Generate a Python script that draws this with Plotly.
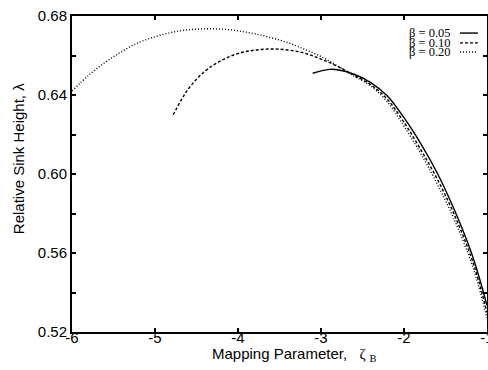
import plotly.graph_objects as go

# beta = 0.05 (solid)
x_b05 = [-3.10, -3.0, -2.9, -2.8, -2.6, -2.4, -2.2, -2.0, -1.8, -1.6, -1.4, -1.2, -1.1, -1.0]
y_b05 = [0.6510, 0.6522, 0.6530, 0.6528, 0.6505, 0.6463, 0.6395, 0.6285, 0.6155, 0.6005,
         0.5825, 0.5615, 0.5485, 0.5335]

# beta = 0.10 (dashed)
x_b10 = [-4.78, -4.6, -4.4, -4.2, -4.0, -3.8, -3.6, -3.4, -3.2, -3.0, -2.8, -2.6, -2.4,
         -2.2, -2.0, -1.8, -1.6, -1.4, -1.2, -1.1, -1.0]
y_b10 = [0.6300, 0.6430, 0.6520, 0.6575, 0.6610, 0.6627, 0.6633, 0.6628, 0.6612, 0.6582,
         0.6545, 0.6500, 0.6452, 0.6378, 0.6262, 0.6125, 0.5975, 0.5800, 0.5590, 0.5457,
         0.5300]

# beta = 0.20 (dotted)
x_b20 = [-6.0, -5.8, -5.6, -5.4, -5.2, -5.0, -4.8, -4.6, -4.4, -4.2, -4.0, -3.8, -3.6,
         -3.4, -3.2, -3.0, -2.8, -2.6, -2.4, -2.2, -2.0, -1.8, -1.6, -1.4, -1.2, -1.1, -1.0]
y_b20 = [0.6420, 0.6500, 0.6565, 0.6620, 0.6665, 0.6695, 0.6717, 0.6730, 0.6735, 0.6734,
         0.6725, 0.6710, 0.6690, 0.6665, 0.6632, 0.6595, 0.6547, 0.6495, 0.6445, 0.6365,
         0.6242, 0.6105, 0.5950, 0.5775, 0.5565, 0.5430, 0.5270]

legend_labels = ["β = 0.05", "β = 0.10", "β = 0.20"]
dashes = ["solid", "3px,2px", "1px,2px"]

x_ticks = [-6, -5, -4, -3, -2, -1]
y_ticks = [0.52, 0.56, 0.60, 0.64, 0.68]
y_tick_text = ["0.52", "0.56", "0.60", "0.64", "0.68"]

fig = go.Figure()
for xs, ys, name, d in zip([x_b05, x_b10, x_b20], [y_b05, y_b10, y_b20], legend_labels, dashes):
    fig.add_trace(go.Scatter(x=xs, y=ys, mode="lines", name=name, line_shape="spline",
                             line=dict(color="black", width=1.4, dash=d), showlegend=False))

# legend drawn at top right: text then line sample
leg_y = [0.946, 0.915, 0.886]
for lab, d, yy in zip(legend_labels, dashes, leg_y):
    fig.add_annotation(x=0.916, y=yy, xref="paper", yref="paper", text=lab, showarrow=False,
                       xanchor="right", yanchor="middle", borderpad=0,
                       font=dict(family="Liberation Serif", size=12.5, color="black"))
    fig.add_shape(type="line", xref="paper", yref="paper", x0=0.935, x1=0.978, y0=yy, y1=yy,
                  line=dict(color="black", width=1.4, dash=d))

# axis titles
fig.add_annotation(x=0.537, y=-0.072, xref="paper", yref="paper", showarrow=False,
                   xanchor="center", yanchor="middle",
                   text="Mapping Parameter,\u00a0\u00a0\u00a0<span style='font-family:Liberation Serif'>ζ <sub>B</sub></span>",
                   font=dict(family="Liberation Sans", size=15, color="black"))
fig.add_annotation(x=-0.130, y=0.547, xref="paper", yref="paper", showarrow=False,
                   xanchor="center", yanchor="middle", textangle=-90,
                   text="Relative Sink Height, λ",
                   font=dict(family="Liberation Sans", size=15, color="black"))

axis_common = dict(showline=True, linecolor="black", linewidth=2, mirror="ticks",
                   ticks="inside", ticklen=4, tickwidth=2, tickcolor="black",
                   showgrid=False, zeroline=False, automargin=False,
                   ticklabeloverflow="allow",
                   tickfont=dict(family="Liberation Sans", size=15, color="black"))

fig.update_xaxes(range=[-6, -1], tickvals=x_ticks, ticktext=[str(v) for v in x_ticks],
                 ticklabelstandoff=-9, **axis_common)
fig.update_yaxes(range=[0.52, 0.68], tickvals=y_ticks, ticktext=y_tick_text,
                 minor=dict(dtick=0.02, tick0=0.52, ticks="inside", ticklen=4, tickwidth=2,
                            tickcolor="black", showgrid=False),
                 **axis_common)

fig.update_layout(width=488, height=370, margin=dict(l=72, r=1, t=16, b=38),
                  paper_bgcolor="white", plot_bgcolor="white", showlegend=False)

fig.write_html("out.html", config={"displayModeBar": False},
               post_script="document.body.style.margin='0';")
